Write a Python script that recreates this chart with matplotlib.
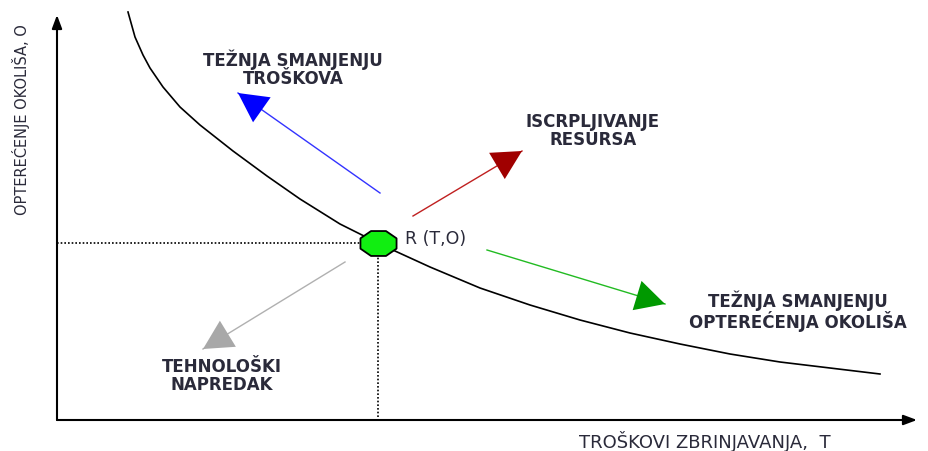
import numpy as np
import matplotlib.pyplot as plt
from matplotlib.patches import FancyArrowPatch
from matplotlib.path import Path

# diagram values (pixel-like units, y goes down)
curve_x = [128, 135, 143, 150, 163, 180, 200, 233, 267, 300, 340, 378, 395, 430, 480, 530, 580, 630, 680, 730, 780, 830, 880]
curve_y = [13, 38, 56, 69, 88, 108, 126, 152, 177, 200, 225, 244, 252, 268, 289, 306, 321, 334, 345, 355, 363, 369, 375]

point_R = (378, 244)
origin = (57, 421)
x_axis_end = 917
y_axis_end = 16

arrow_names = ["troskovi", "resursi", "okolis", "napredak"]
arrow_start = [(380, 194), (413, 217), (487, 251), (345, 263)]
arrow_end = [(238, 94), (522, 152), (665, 305), (203, 350)]
arrow_line_col = ["#3333ff", "#c02020", "#22bb22", "#b0b0b0"]
arrow_head_col = ["#0000ff", "#a00000", "#009900", "#a8a8a8"]

labels = ["TEŽNJA SMANJENJU\nTROŠKOVA", "ISCRPLJIVANJE\nRESURSA",
          "TEŽNJA SMANJENJU\nOPTEREĆENJA OKOLIŠA", "TEHNOLOŠKI\nNAPREDAK"]
label_pos = [(293, 69), (593, 131), (798, 311), (222, 376)]

xlabel = "TROŠKOVI ZBRINJAVANJA,  T"
ylabel = "OPTEREĆENJE OKOLIŠA, O"
point_label = "R (T,O)"

txt_col = "#2a2a3a"

fig = plt.figure(figsize=(9.29, 4.52), dpi=100)
ax = fig.add_axes([0, 0, 1, 1])
ax.set_xlim(0, 929)
ax.set_ylim(452, 0)
ax.axis("off")

# axes with arrow heads
ax.annotate("", xy=(x_axis_end, origin[1]), xytext=origin,
            arrowprops=dict(arrowstyle="-|>,head_length=0.8,head_width=0.3", color="black", lw=1.5,
                            shrinkA=0, shrinkB=0))
ax.annotate("", xy=(origin[0], y_axis_end), xytext=origin,
            arrowprops=dict(arrowstyle="-|>,head_length=0.8,head_width=0.3", color="black", lw=1.5,
                            shrinkA=0, shrinkB=0))

# curve
ax.plot(curve_x, curve_y, color="black", lw=1.2, zorder=3, solid_joinstyle="round")

# dotted guide lines
ax.plot([origin[0], point_R[0]], [point_R[1], point_R[1]], color="black", lw=1.2, ls=(0, (1, 1.2)), zorder=2)
ax.plot([point_R[0], point_R[0]], [point_R[1], origin[1]], color="black", lw=1.2, ls=(0, (1, 1.2)), zorder=2)

# octagon point, a bit wider than tall
ang = np.pi / 8 + np.arange(8) * np.pi / 4
verts = np.column_stack([1.45 * np.cos(ang), np.sin(ang)])
octo = Path(np.vstack([verts, verts[:1]]), closed=True)
ax.plot(point_R[0], point_R[1], marker=octo, markersize=26, markerfacecolor="#11ee11",
        markeredgecolor="black", markeredgewidth=1.3, zorder=5)
ax.text(point_R[0] + 27, point_R[1] - 5, point_label, fontsize=12.5, color=txt_col,
        ha="left", va="center")

# direction arrows
for i in range(len(arrow_names)):
    ax.plot([arrow_start[i][0], arrow_end[i][0]], [arrow_start[i][1], arrow_end[i][1]],
            color=arrow_line_col[i], lw=1.0, zorder=3)
    head = FancyArrowPatch(arrow_start[i], arrow_end[i],
                           arrowstyle="-|>,head_length=2.1,head_width=1.1", mutation_scale=10,
                           color=arrow_head_col[i], lw=0, shrinkA=0, shrinkB=0, zorder=4)
    ax.add_patch(head)
    ax.text(label_pos[i][0], label_pos[i][1], labels[i], fontsize=12, fontweight="bold",
            color=txt_col, ha="center", va="center", multialignment="center", linespacing=1.0)

ax.text(705, 448, xlabel, fontsize=13, color=txt_col, ha="center", va="baseline")
ax.text(21, 120, ylabel, fontsize=10.5, color=txt_col, ha="center", va="center", rotation=90)

fig.savefig("out.png", dpi=100)
